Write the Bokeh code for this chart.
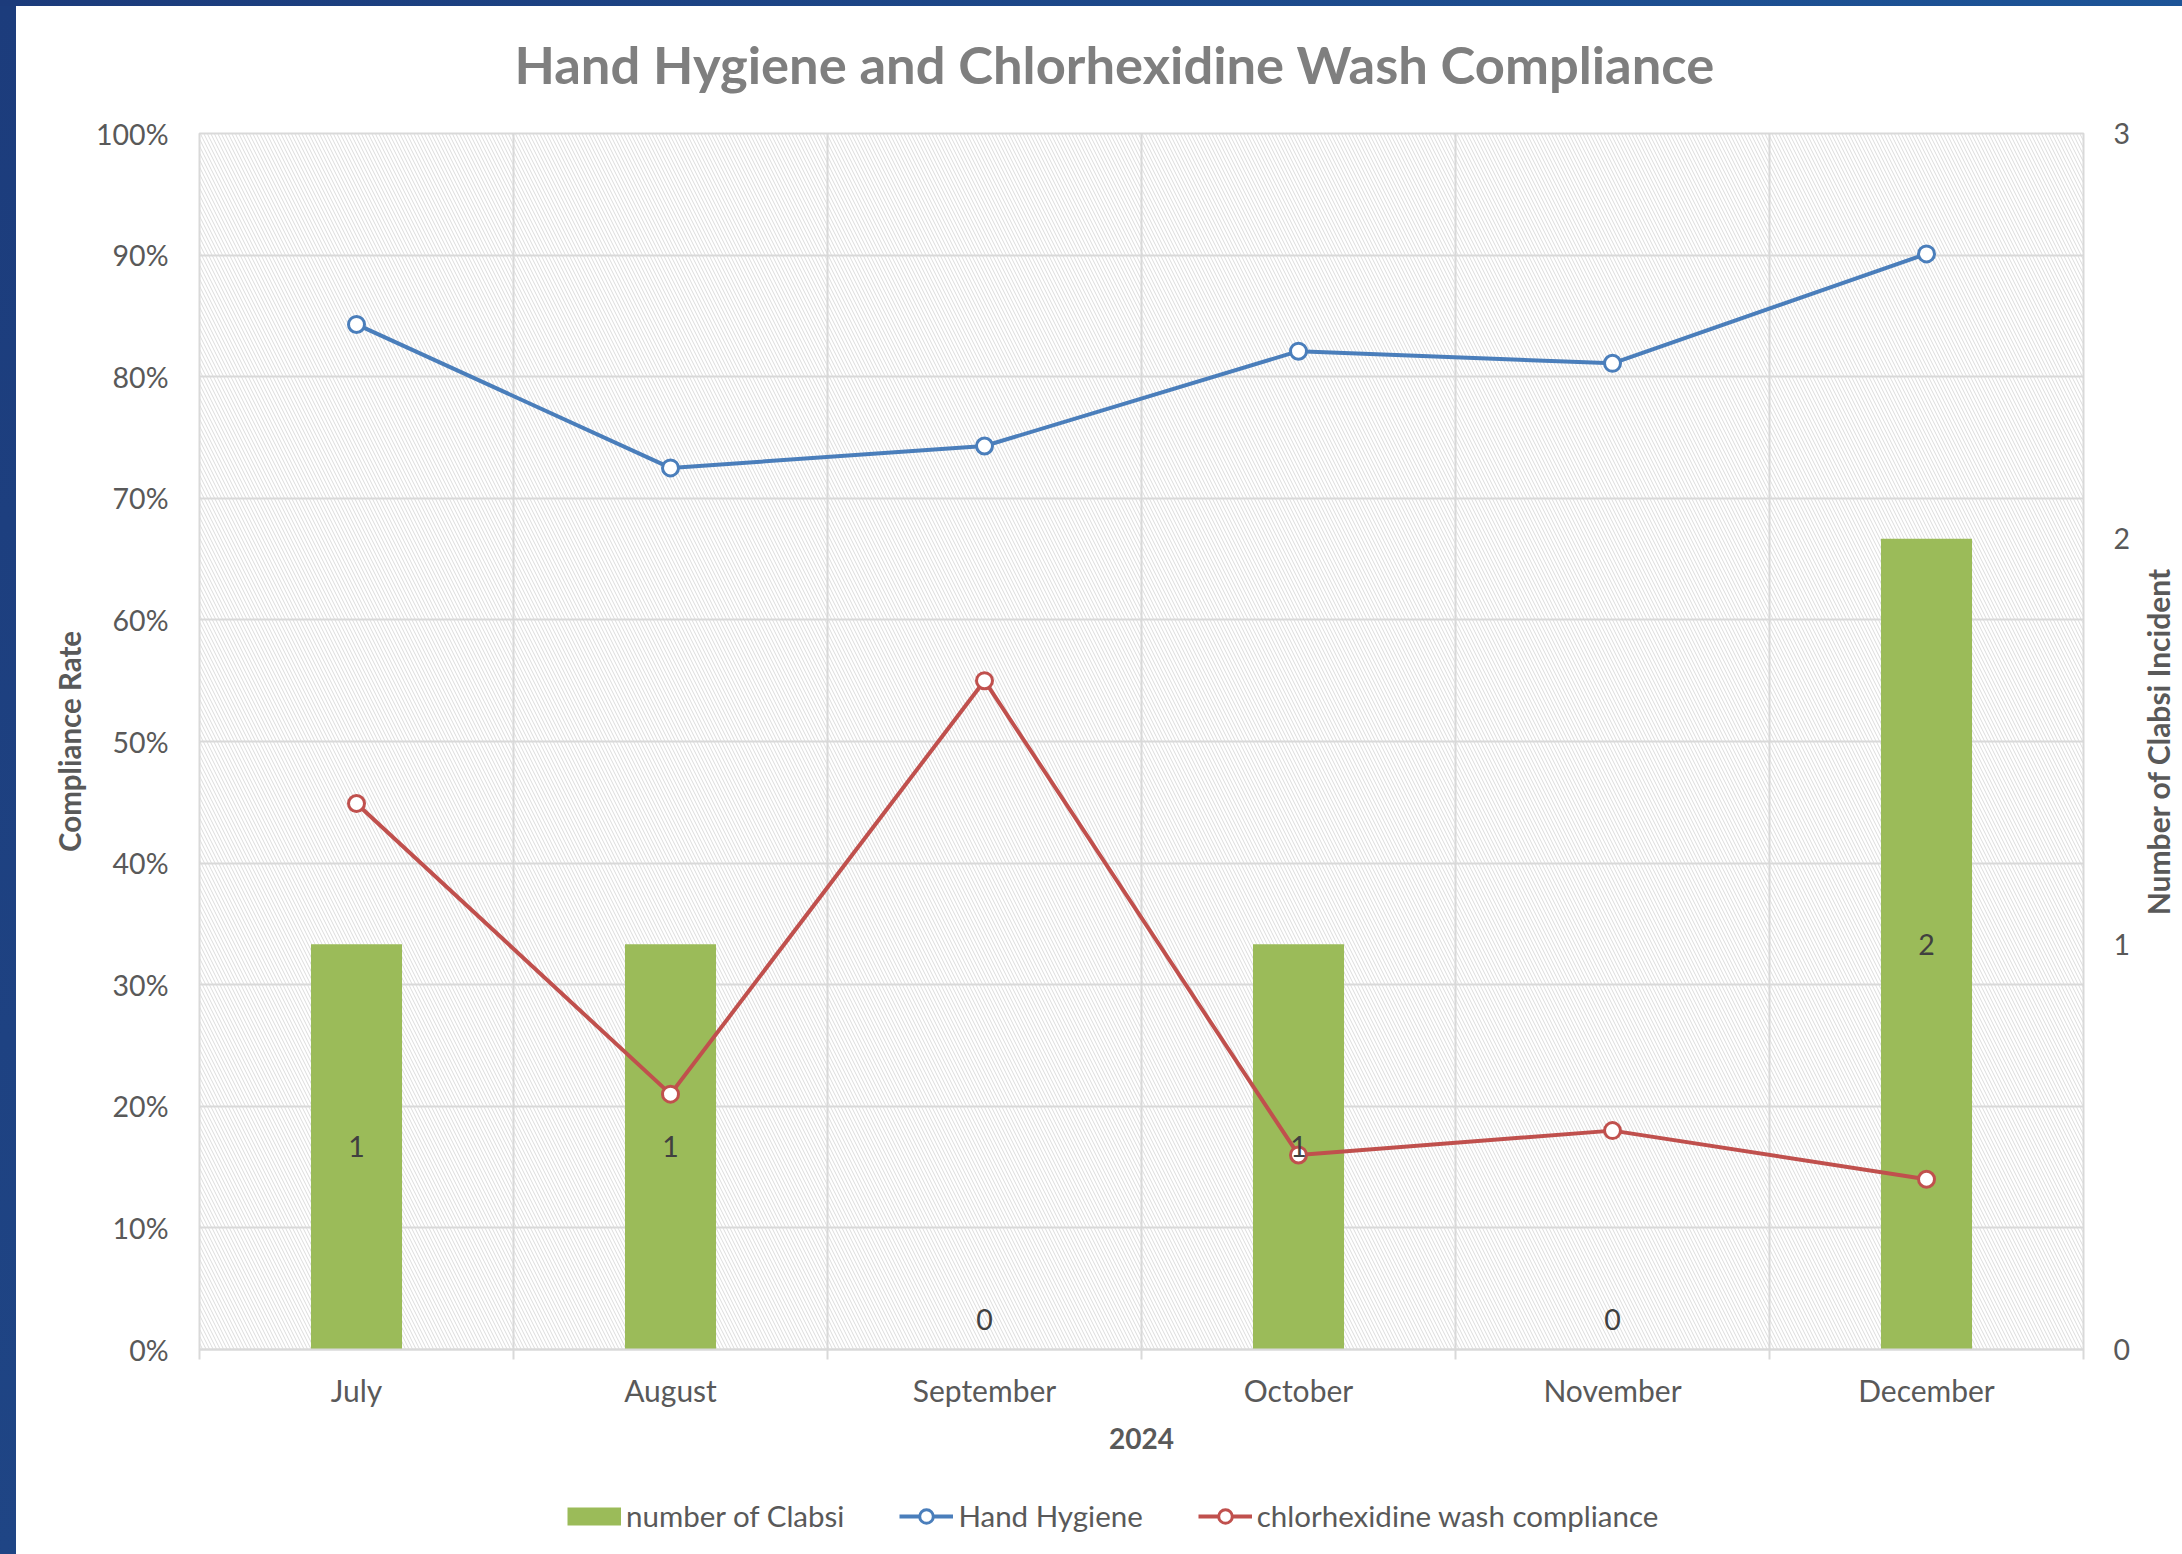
import math
from bokeh.plotting import figure
from bokeh.models import (Range1d, LinearAxis, FixedTicker, NumeralTickFormatter, BoxAnnotation,
                          Legend, LegendItem, ColumnDataSource, Div, Label)
from bokeh.layouts import row, column
from bokeh.core.properties import value
from bokeh.embed import file_html
from bokeh.resources import INLINE

# ---------------- data ----------------
months = ["July", "August", "September", "October", "November", "December"]
year_label = "2024"
clabsi = [1, 1, 0, 1, 0, 2]
hand_hygiene = [0.843, 0.725, 0.743, 0.821, 0.811, 0.901]
chg_wash = [0.449, 0.210, 0.550, 0.160, 0.180, 0.140]
pct_ticks = [0.0, 0.1, 0.2, 0.3, 0.4, 0.5, 0.6, 0.7, 0.8, 0.9, 1.0]
count_ticks = [0, 1, 2, 3]
title_text = "Hand Hygiene and Chlorhexidine Wash Compliance"
left_label = "Compliance Rate"
right_label = "Number of Clabsi Incident"
series_names = ["number of Clabsi", "Hand Hygiene", "chlorhexidine wash compliance"]

# ---------------- style ----------------
FONT = "Lato"
GREEN = "#9bbb59"
BLUE = "#4a7ebb"
RED = "#c0504d"
GRID = "#d9d9d9"
TXT = "#595959"

MAIN_W = 2125
n = len(months)
xs = [i + 0.5 for i in range(n)]

src = ColumnDataSource(dict(
    x=xs, clabsi=clabsi, hh=hand_hygiene, chg=chg_wash,
    lab=[str(v) for v in clabsi],
    lab_y=[v / 2 for v in clabsi],
    lab_off=[0 if v else -30 for v in clabsi],
))


def blank_fig(w, h, **kw):
    f = figure(width=w, height=h, output_backend="svg", toolbar_location=None,
               x_axis_location=None, y_axis_location=None, min_border=0,
               outline_line_color=None, background_fill_color="white",
               border_fill_color="white", **kw)
    f.grid.visible = False
    f.frame_align = False
    return f


# ---------------- title strip ----------------
tf = blank_fig(MAIN_W, 107, x_range=Range1d(0, 1), y_range=Range1d(0, 1))
tf.add_layout(Label(x=1098, y=50, x_units="screen", y_units="screen", text=title_text,
                    text_font=FONT, text_font_style="bold", text_font_size="52.5px",
                    text_color="#7f7f7f", text_align="center", text_baseline="alphabetic"))

# ---------------- main chart ----------------
p = figure(frame_width=1884, frame_height=1216,
           x_range=Range1d(0, n), y_range=Range1d(0, 1),
           output_backend="svg", toolbar_location=None,
           min_border_left=183, min_border_right=MAIN_W - 183 - 1884,
           min_border_top=20, min_border_bottom=121,
           background_fill_color="white", border_fill_color="white",
           outline_line_color=GRID, outline_line_width=2)
p.extra_y_ranges = {"count": Range1d(0, count_ticks[-1])}

# hatched plot-area background
p.add_layout(BoxAnnotation(fill_alpha=0, line_alpha=0, hatch_pattern="\\", hatch_color="#dcdcdc",
                           hatch_scale=7, hatch_weight=1, level="image"))

# grids
p.xgrid.ticker = FixedTicker(ticks=list(range(n + 1)))
p.xgrid.grid_line_color = GRID
p.xgrid.grid_line_width = 2
p.ygrid.ticker = FixedTicker(ticks=pct_ticks)
p.ygrid.grid_line_color = GRID
p.ygrid.grid_line_width = 2

# x axis
xa = p.xaxis[0]
xa.ticker = FixedTicker(ticks=xs, minor_ticks=list(range(n + 1)))
xa.major_label_overrides = {x: m for x, m in zip(xs, months)}
xa.axis_label = year_label
xa.axis_label_text_font = FONT
xa.axis_label_text_font_style = "bold"
xa.axis_label_text_font_size = "28px"
xa.axis_label_text_color = TXT
xa.axis_label_standoff = 17
xa.major_label_text_font = FONT
xa.major_label_text_font_size = "30px"
xa.major_label_text_color = TXT
xa.major_label_standoff = 12
xa.axis_line_color = GRID
xa.axis_line_width = 2
xa.major_tick_line_color = None
xa.major_tick_in = 0
xa.major_tick_out = 0
xa.minor_tick_line_color = GRID
xa.minor_tick_line_width = 2
xa.minor_tick_in = 0
xa.minor_tick_out = 10

# left axis
ya = p.yaxis[0]
ya.ticker = FixedTicker(ticks=pct_ticks)
ya.formatter = NumeralTickFormatter(format="0%")
ya.axis_line_color = None
ya.major_tick_line_color = None
ya.minor_tick_line_color = None
ya.major_tick_in = 0
ya.major_tick_out = 0
ya.major_label_standoff = 31
ya.major_label_text_font = FONT
ya.major_label_text_font_size = "28.5px"
ya.major_label_text_color = TXT
ya.axis_label = left_label
ya.axis_label_text_font = FONT
ya.axis_label_text_font_style = "bold"
ya.axis_label_text_font_size = "29.5px"
ya.axis_label_text_color = TXT
ya.axis_label_standoff = 6

# right axis (its title is drawn in the strip to the right, reading upward)
yr = LinearAxis(y_range_name="count", ticker=FixedTicker(ticks=count_ticks))
yr.axis_line_color = None
yr.major_tick_line_color = None
yr.minor_tick_line_color = None
yr.major_tick_in = 0
yr.major_tick_out = 0
yr.major_label_standoff = 30
yr.major_label_text_font = FONT
yr.major_label_text_font_size = "28.5px"
yr.major_label_text_color = TXT
p.add_layout(yr, "right")

# glyphs
p.vbar(x="x", top="clabsi", width=0.29, y_range_name="count", fill_color=GREEN,
       line_color=None, source=src)
p.line("x", "hh", line_color=BLUE, line_width=4, source=src)
p.scatter("x", "hh", marker="circle", size=16, fill_color="white",
          line_color=BLUE, line_width=3, source=src)
p.line("x", "chg", line_color=RED, line_width=4, source=src)
p.scatter("x", "chg", marker="circle", size=16, fill_color="white",
          line_color=RED, line_width=3, source=src)
p.text("x", "lab_y", text="lab", y_range_name="count", y_offset="lab_off",
       text_align="center", text_baseline="middle", text_font=value(FONT),
       text_font_size="28.5px", text_color="#404040", source=src)

# ---------------- legend strip (below the chart) ----------------
# sample glyphs come from renderers of the same data, kept out of this strip's view
lf = blank_fig(MAIN_W, 84, x_range=Range1d(-20, -19), y_range=Range1d(-20, -19))
g_patch = lf.line("x", "clabsi", line_color=GREEN, line_width=18, source=src)
g_hh_l = lf.line("x", "hh", line_color=BLUE, line_width=4, source=src)
g_hh_m = lf.scatter("x", "hh", marker="circle", size=16, fill_color="white",
                    line_color=BLUE, line_width=3, source=src)
g_chg_l = lf.line("x", "chg", line_color=RED, line_width=4, source=src)
g_chg_m = lf.scatter("x", "chg", marker="circle", size=16, fill_color="white",
                     line_color=RED, line_width=3, source=src)
legend = Legend(items=[
    LegendItem(label=series_names[0], renderers=[g_patch]),
    LegendItem(label=series_names[1], renderers=[g_hh_l, g_hh_m]),
    LegendItem(label=series_names[2], renderers=[g_chg_l, g_chg_m]),
], orientation="horizontal", location=(551, 21), glyph_width=54, glyph_height=34,
    label_standoff=5, spacing=55, padding=0, margin=0, border_line_color=None,
    background_fill_alpha=0, label_text_font=FONT, label_text_font_size="29.5px",
    label_text_color=TXT)
lf.add_layout(legend)

# ---------------- right strip: secondary axis title ----------------
rf = blank_fig(2182 - 16 - MAIN_W, 1548, x_range=Range1d(0, 1), y_range=Range1d(0, 1))
rf.add_layout(Label(x=16, y=813, x_units="screen", y_units="screen", text=right_label,
                    angle=math.pi / 2, text_font=FONT, text_font_style="bold",
                    text_font_size="30px", text_color=TXT, text_align="center",
                    text_baseline="middle"))

top_strip = Div(text="", width=2182, height=6, margin=0,
                styles={"background": "linear-gradient(to right, #1c3b7b, #1d5497)"})
left_strip = Div(text="", width=16, height=1548, margin=0,
                 styles={"background": "linear-gradient(#1c3c7c, #1f4585)"})
layout = column(top_strip, row(left_strip, column(tf, p, lf), rf))

with open("out.html", "w") as f:
    f.write(file_html(layout, INLINE))
